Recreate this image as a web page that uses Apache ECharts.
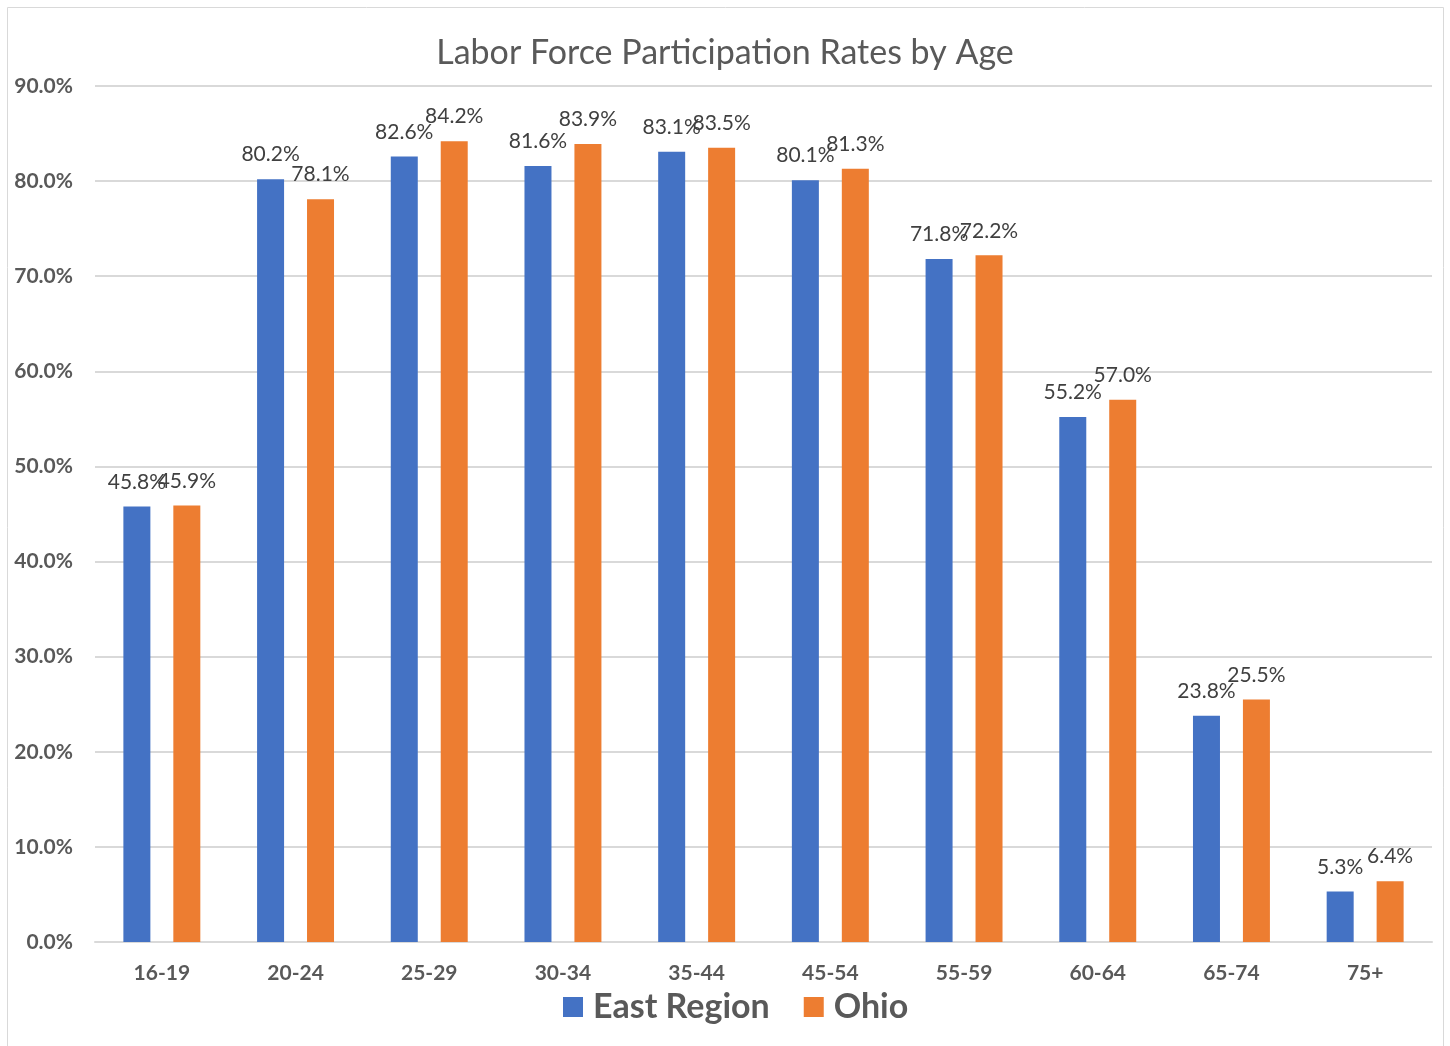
<!DOCTYPE html>
<html>
<head>
<meta charset="utf-8">
<script src="https://cdn.jsdelivr.net/npm/echarts@6/dist/echarts.min.js"></script>
<style>
  html, body { margin: 0; padding: 0; background: #fff; }
  #main { width: 1450px; height: 1046px; }
</style>
</head>
<body>
<div id="main"></div>
<script>
const ageGroups = ['16-19', '20-24', '25-29', '30-34', '35-44', '45-54', '55-59', '60-64', '65-74', '75+'];
const eastRegion = [45.8, 80.2, 82.6, 81.6, 83.1, 80.1, 71.8, 55.2, 23.8, 5.3];
const ohio = [45.9, 78.1, 84.2, 83.9, 83.5, 81.3, 72.2, 57.0, 25.5, 6.4];

const fontFam = 'Lato, "Open Sans", sans-serif';
const textColor = '#595959';

let chart = echarts.init(document.getElementById('main'));

const labelStyle = {
  show: true,
  position: 'top',
  distance: 14,
  formatter: p => p.value.toFixed(1) + '%',
  color: '#404040',
  fontSize: 21,
  fontFamily: fontFam
};

const option = {
  animation: false,
  graphic: [{
    type: 'rect',
    shape: { x: 7.5, y: 7.5, width: 1436, height: 1050 },
    style: { fill: 'none', stroke: '#d9d9d9', lineWidth: 1 },
    silent: true
  }],
  title: {
    text: 'Labor Force Participation Rates by Age',
    left: 'center',
    top: 31,
    textStyle: {
      color: textColor,
      fontSize: 34,
      fontWeight: 'normal',
      fontFamily: fontFam
    }
  },
  legend: {
    data: ['East Region', 'Ohio'],
    bottom: 17,
    left: 558,
    itemWidth: 20,
    itemHeight: 20,
    itemGap: 34,
    icon: 'rect',
    textStyle: {
      color: textColor,
      fontSize: 34,
      fontWeight: 'bold',
      fontFamily: fontFam,
      padding: [0, 0, 0, 5]
    }
  },
  grid: {
    left: 95,
    right: 18,
    top: 86,
    bottom: 104,
    containLabel: false
  },
  xAxis: {
    type: 'category',
    data: ageGroups,
    axisTick: { show: false },
    axisLine: { lineStyle: { color: '#d9d9d9', width: 2 } },
    axisLabel: {
      color: textColor,
      fontSize: 21,
      fontWeight: 'bold',
      fontFamily: fontFam,
      margin: 21
    }
  },
  yAxis: {
    type: 'value',
    min: 0,
    max: 90,
    interval: 10,
    axisLine: { show: false },
    axisTick: { show: false },
    splitLine: { lineStyle: { color: '#d9d9d9', width: 2 } },
    axisLabel: {
      formatter: v => v.toFixed(1) + '%',
      color: textColor,
      fontSize: 21,
      fontWeight: 'bold',
      fontFamily: fontFam,
      margin: 22
    }
  },
  series: [
    {
      name: 'East Region',
      type: 'bar',
      data: eastRegion,
      barWidth: 27,
      barGap: '85%',
      itemStyle: { color: '#4472c4' },
      label: labelStyle
    },
    {
      name: 'Ohio',
      type: 'bar',
      data: ohio,
      barWidth: 27,
      itemStyle: { color: '#ed7d31' },
      label: labelStyle
    }
  ]
};

chart.setOption(option);
</script>
</body>
</html>
